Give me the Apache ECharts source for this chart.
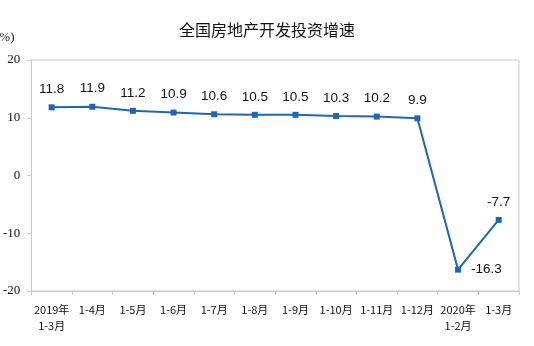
<!DOCTYPE html>
<html>
<head>
<meta charset="utf-8">
<script src="https://cdn.jsdelivr.net/npm/echarts@6/dist/echarts.min.js"></script>
<style>
  html, body { margin: 0; padding: 0; background: #fff; }
  #chart { width: 534px; height: 346px; }
</style>
</head>
<body>
<div id="chart"></div>
<script>
// 全国房地产开发投资增速（%）
const months = ['2019年\n1-3月', '1-4月', '1-5月', '1-6月', '1-7月', '1-8月',
                '1-9月', '1-10月', '1-11月', '1-12月', '2020年\n1-2月', '1-3月'];
const growth = [11.8, 11.9, 11.2, 10.9, 10.6, 10.5, 10.5, 10.3, 10.2, 9.9, -16.3, -7.7];
const yTicks = [-20, -10, 0, 10, 20];

const lineColor = '#1f66b3';

// -16.3 的标签放在点的右侧
const seriesData = growth.map((v, i) => {
    if (i === 10) {
        return { value: v, label: { position: 'right', distance: 10 } };
    }
    return v;
});

const chart = echarts.init(document.getElementById('chart'));

const option = {
    backgroundColor: '#fff',
    animation: false,
    title: {
        text: '全国房地产开发投资增速',
        left: 'center',
        top: 17,
        textStyle: {
            fontFamily: 'Noto Sans CJK SC',
            fontSize: 16,
            fontWeight: 'normal',
            color: '#111'
        }
    },
    graphic: [{
        type: 'text',
        left: -5,
        top: 31,
        style: {
            text: '(%)',
            fontFamily: 'Liberation Serif',
            fontSize: 13,
            fill: '#222'
        }
    }],
    grid: {
        left: 27,
        right: 15,
        top: 60,
        bottom: 55,
        show: true,
        borderColor: '#c8c8c8',
        borderWidth: 1
    },
    xAxis: {
        type: 'category',
        data: months,
        boundaryGap: true,
        axisLine: { onZero: false, lineStyle: { color: '#c8c8c8' } },
        axisTick: { show: true, length: 4, lineStyle: { color: '#c8c8c8' } },
        axisLabel: {
            interval: 0,
            margin: 11,
            fontFamily: 'Noto Sans CJK SC',
            fontSize: 11,
            lineHeight: 16,
            color: '#111'
        },
        splitLine: { show: false }
    },
    yAxis: {
        type: 'value',
        min: yTicks[0],
        max: yTicks[yTicks.length - 1],
        interval: 10,
        axisLine: { show: true, lineStyle: { color: '#c8c8c8' } },
        axisTick: { show: true, length: 4, lineStyle: { color: '#c8c8c8' } },
        axisLabel: {
            margin: 11,
            fontFamily: 'Liberation Serif',
            fontSize: 13,
            color: '#111'
        },
        splitLine: { show: false }
    },
    series: [{
        type: 'line',
        data: seriesData,
        symbol: 'rect',
        symbolSize: 6,
        lineStyle: { color: lineColor, width: 2 },
        itemStyle: { color: lineColor },
        label: {
            show: true,
            position: 'top',
            distance: 8,
            fontFamily: 'Liberation Sans',
            fontSize: 13.5,
            color: '#111'
        }
    }]
};

chart.setOption(option);
</script>
</body>
</html>
